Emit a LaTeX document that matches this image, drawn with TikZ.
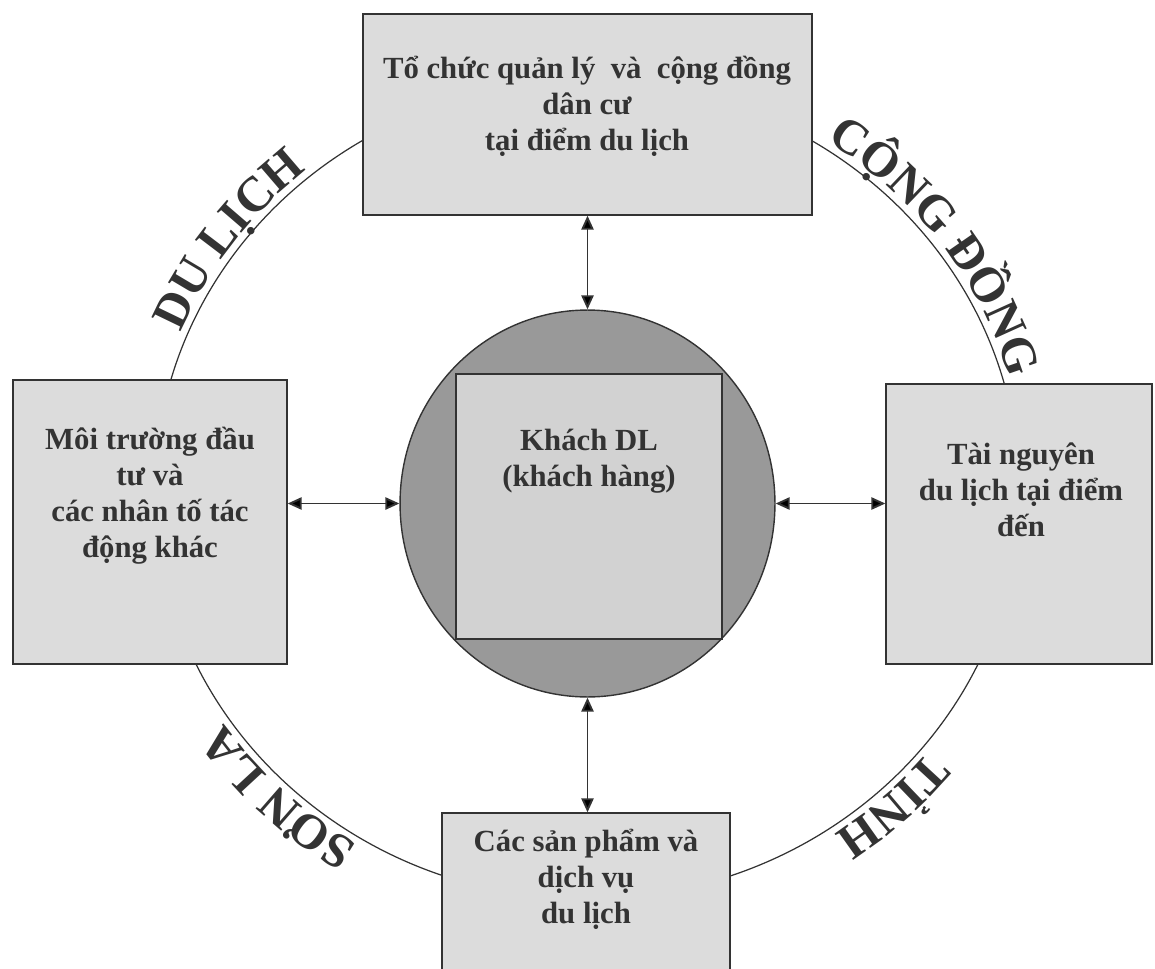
\documentclass[tikz,border=0pt]{standalone}
\usepackage{fontspec}
\setmainfont{Liberation Serif}
\usetikzlibrary{arrows.meta,shapes.geometric,decorations.text}
\definecolor{boxgray}{HTML}{DCDCDC}
\definecolor{hubgray}{HTML}{999999}
\definecolor{squaregray}{HTML}{D2D2D2}
\definecolor{inkgray}{HTML}{333333}
\newcommand\boxfont{\bfseries\fontsize{17.5}{20.5}\selectfont}
\newcommand\ringfont{\bfseries\fontsize{28}{30}\selectfont}
\begin{document}
\begin{tikzpicture}[x=0.02cm, y=0.02cm,
	box/.style = {draw = inkgray, line width = 0.8pt, fill = boxgray, inner sep = 0pt},
	txt/.style = {align = center, text = inkgray, font = \boxfont},
	link/.style = {<->, >={Triangle[length=8pt,width=7pt]}, draw = inkgray, line width = 1.1pt},
	ringtext/.style = {decorate, decoration = {text along path, text align = center, text color = inkgray}}]
	\useasboundingbox (0,0) rectangle (1155,-969);
	\clip (0,0) rectangle (1155,-969);
	% outer ring and its words
	\draw [inkgray, line width = 0.7pt] (587,-490) ellipse (432 and 409);
	\path [ringtext, decoration = {text = {|\ringfont|DU LỊCH}}]
		(587,-490) ++(174:439 and 416) arc [start angle = 174, end angle = 114, x radius = 439, y radius = 416];
	\path [ringtext, decoration = {text = {|\ringfont|CỘNG ĐỒNG}}]
		(587,-490) ++(70:439 and 416) arc [start angle = 70, end angle = 2, x radius = 439, y radius = 416];
	\path [ringtext, decoration = {text = {|\ringfont|TỈNH}}]
		(587,-490) ++(-17:439 and 416) arc [start angle = -17, end angle = -77, x radius = 439, y radius = 416];
	\path [ringtext, decoration = {text = {|\ringfont|SƠN LA}}]
		(587,-490) ++(256:439 and 416) arc [start angle = 256, end angle = 196, x radius = 439, y radius = 416];
	% boxes
	\node [box, minimum width = 8.98cm, minimum height = 4.02cm] (org) at (587.5,-114.5) {};
	\node [box, minimum width = 5.48cm, minimum height = 5.68cm] (invest) at (150,-522) {};
	\node [box, minimum width = 5.32cm, minimum height = 5.6cm] (resource) at (1019,-524) {};
	\node [box, minimum width = 5.76cm, minimum height = 3.44cm] (product) at (586,-899) {};
	\node [ellipse, draw = inkgray, line width = 0.8pt, fill = hubgray, inner sep = 0pt,
		minimum width = 7.5cm, minimum height = 7.74cm] (hub) at (587.5,-503.5) {};
	\node [box, fill = squaregray, minimum width = 5.32cm, minimum height = 5.3cm] (guest) at (589,-506.5) {};
	% texts
	\node [txt] (org-t) at (587,-106) {Tổ chức quản lý~ và~ cộng đồng\\dân cư\\tại điểm du lịch};
	\node [txt] (invest-t) at (150,-496) {Môi trường đầu\\tư và\\các nhân tố tác\\động khác};
	\node [txt] (resource-t) at (1021,-490) {Tài nguyên\\du lịch tại điểm\\đến};
	\node [txt] (guest-t) at (589,-461) {Khách DL\\(khách hàng)};
	\node [txt] (product-t) at (586,-879) {Các sản phẩm và\\dịch vụ\\du lịch};
	% arrows
	\draw [link] (org.south) -- (hub.north);
	\draw [link] (invest.east |- hub.west) -- (hub.west);
	\draw [link] (hub.east) -- (hub.east -| resource.west);
	\draw [link] (hub.south) -- (hub.south |- product.north);
\end{tikzpicture}
\end{document}
